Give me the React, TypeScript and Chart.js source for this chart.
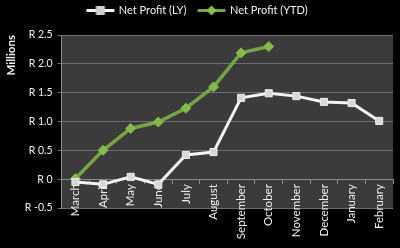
import React, { useEffect, useRef } from "react";
import { Chart, registerables } from "chart.js";
Chart.register(...registerables);

const categories = ["March", "April", "May", "June", "July", "August", "September", "October", "November", "December", "January", "February"];
const netProfitLY = [-0.05, -0.09, 0.04, -0.09, 0.42, 0.47, 1.41, 1.49, 1.44, 1.34, 1.32, 1.01];
const netProfitYTD = [0.01, 0.5, 0.88, 0.99, 1.23, 1.6, 2.19, 2.3, null, null, null, null];
const yTicks = [-0.5, 0, 0.5, 1.0, 1.5, 2.0, 2.5];

const FONT = "Lato, 'Open Sans', 'DejaVu Sans', sans-serif";

function legendIcon(line: string, fill: string, shape: "rect" | "diamond") {
  const c = document.createElement("canvas");
  c.width = 30;
  c.height = 11;
  const g = c.getContext("2d")!;
  g.strokeStyle = line;
  g.lineWidth = 3;
  g.beginPath();
  g.moveTo(1, 5.5);
  g.lineTo(29, 5.5);
  g.stroke();
  g.fillStyle = fill;
  if (shape === "rect") {
    g.fillRect(10.5, 1, 9, 9);
  } else {
    g.beginPath();
    g.moveTo(15, 0.5);
    g.lineTo(20, 5.5);
    g.lineTo(15, 10.5);
    g.lineTo(10, 5.5);
    g.closePath();
    g.fill();
  }
  return c;
}

const plotBg = {
  id: "plotBg",
  beforeInit(chart: any) {
    const legend = chart.legend;
    if (legend) {
      const orig = legend.fit;
      legend.fit = function () {
        orig.call(this);
        this.height += 9;
      };
    }
  },
  beforeDraw(chart: any) {
    const { ctx, chartArea } = chart;
    ctx.save();
    ctx.fillStyle = "#3b3b3b";
    ctx.fillRect(chartArea.left, chartArea.top, chartArea.right - chartArea.left, chartArea.bottom - chartArea.top);
    ctx.restore();
  },
};

export default function App() {
  const ref = useRef<HTMLCanvasElement>(null);
  useEffect(() => {
    const icons = [
      legendIcon("#f4f4f4", "#d0d0d0", "rect"),
      legendIcon("#77a442", "#8cc04e", "diamond"),
    ];
    const chart = new Chart(ref.current!, {
      type: "line",
      data: {
        labels: categories,
        datasets: [
          {
            label: "Net Profit (LY)",
            data: netProfitLY,
            borderColor: "#f4f4f4",
            backgroundColor: "#d8d8d8",
            pointBorderColor: "#eeeeee",
            borderWidth: 3,
            pointStyle: "rect",
            pointRadius: 5,
            pointBorderWidth: 1,
          },
          {
            label: "Net Profit (YTD)",
            data: netProfitYTD,
            borderColor: "#77a442",
            backgroundColor: "#86b84a",
            pointBorderColor: "#86b84a",
            borderWidth: 3.5,
            pointStyle: "rectRot",
            pointRadius: 5,
            pointBorderWidth: 1,
          },
        ],
      },
      options: {
        animation: false,
        responsive: false,
        layout: { padding: { top: -7, right: 7, bottom: 40, left: 2 } },
        plugins: {
          tooltip: { enabled: false },
          legend: {
            position: "top",
            labels: {
              color: "#f0f0f0",
              font: { family: FONT, size: 11 },
              usePointStyle: true,
              pointStyleWidth: 26,
              boxHeight: 9,
              padding: 12,
              generateLabels(chart: any) {
                return chart.data.datasets.map((ds: any, i: number) => ({
                  text: ds.label,
                  fillStyle: ds.backgroundColor,
                  strokeStyle: ds.borderColor,
                  lineWidth: 0,
                  pointStyle: icons[i],
                  fontColor: "#f0f0f0",
                  datasetIndex: i,
                  hidden: false,
                }));
              },
            },
          },
        },
        scales: {
          x: {
            position: { y: 0 } as any,
            offset: true,
            grid: {
              display: true,
              drawOnChartArea: false,
              drawTicks: true,
              tickLength: 4,
              color: "#8a8a8a",
              offset: true,
            },
            border: { display: true, color: "#8a8a8a" },
            ticks: {
              color: "#f0f0f0",
              font: { family: FONT, size: 11.5 },
              maxRotation: 90,
              minRotation: 90,
              autoSkip: false,
              padding: 1,
            },
          },
          y: {
            min: -0.5,
            max: 2.5,
            afterBuildTicks(scale: any) {
              scale.ticks = yTicks.map((v) => ({ value: v }));
            },
            grid: { color: "#6e6e6e", tickLength: 4, lineWidth: 1 },
            border: { display: true, color: "#8a8a8a" },
            title: {
              display: true,
              text: "Millions",
              align: "end",
              color: "#f0f0f0",
              font: { family: FONT, size: 11.5, weight: "bold" },
              padding: { top: 2, bottom: 2 },
            },
            ticks: {
              color: "#f0f0f0",
              font: { family: FONT, size: 10.5 },
              padding: 5,
              callback: (v: any) => "R " + (Number(v) === 0 ? "0" : Number(v).toFixed(1)),
            },
          },
        },
      },
      plugins: [plotBg],
    });
    return () => chart.destroy();
  }, []);
  return (
    <div style={{ position: "fixed", left: 0, top: 0, width: 400, height: 248, background: "#000" }}>
      <canvas ref={ref} width={400} height={248} style={{ width: 400, height: 248 }} />
    </div>
  );
}
